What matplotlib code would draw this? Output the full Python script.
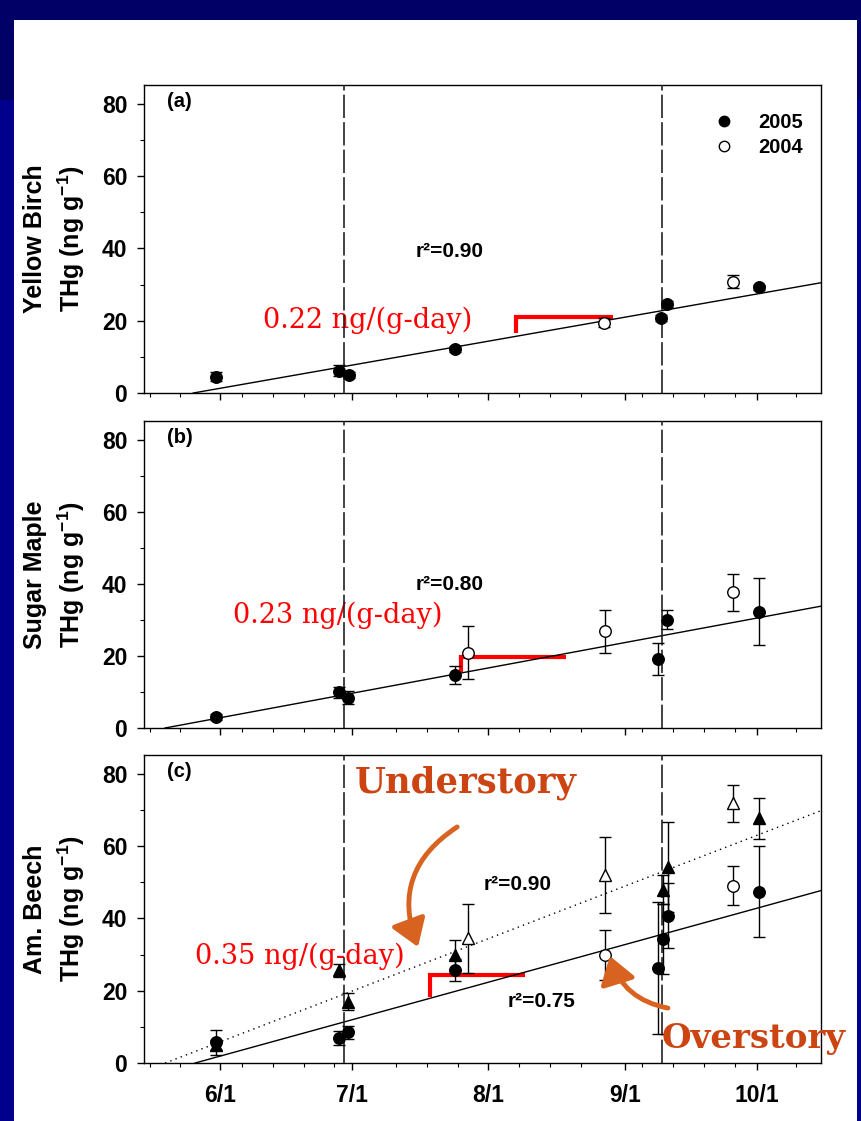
import matplotlib
matplotlib.use("Agg")
import matplotlib.pyplot as plt
from matplotlib.ticker import FixedLocator
from matplotlib.patches import Rectangle
from matplotlib.lines import Line2D

plt.rcParams["font.family"] = "Liberation Sans"
plt.rcParams["font.weight"] = "bold"
plt.rcParams["mathtext.fontset"] = "custom"
plt.rcParams["mathtext.rm"] = "Liberation Sans:bold"
plt.rcParams["mathtext.bf"] = "Liberation Sans:bold"
plt.rcParams["mathtext.default"] = "bf"

# x values are day of year (2005)
month_days = [152, 182, 213, 244, 274]
month_labels = ["6/1", "7/1", "8/1", "9/1", "10/1"]
phase_days = [180.1, 252.5]

# (a) Yellow Birch
yb_2005_day = [151.0, 179.0, 181.2, 205.3, 252.2, 253.5, 274.6]
yb_2005_thg = [4.5, 6.2, 5.0, 12.1, 20.7, 24.6, 29.2]
yb_2005_err = [1.3, 1.5, 0.8, 0.8, 0.8, 0.8, 0.8]
yb_2004_day = [239.3, 268.7]
yb_2004_thg = [19.5, 30.8]
yb_2004_err = [1.2, 1.8]
yb_fit_day = [145.9, 288.6]
yb_fit_thg = [0.0, 30.5]

# (b) Sugar Maple
sm_2005_day = [151.0, 179.0, 181.1, 205.3, 251.5, 253.5, 274.6]
sm_2005_thg = [3.1, 9.9, 8.4, 14.7, 19.2, 30.0, 32.3]
sm_2005_err = [0.8, 1.5, 1.8, 2.6, 4.5, 2.6, 9.4]
sm_2004_day = [208.3, 239.5, 268.7]
sm_2004_thg = [20.9, 26.8, 37.6]
sm_2004_err = [7.3, 5.9, 5.2]
sm_fit_day = [139.5, 288.6]
sm_fit_thg = [0.0, 33.8]

# (c) Am. Beech, overstory (circles) and understory (triangles)
ov_2005_day = [151.0, 179.0, 181.1, 205.3, 251.5, 252.6, 253.8, 274.6]
ov_2005_thg = [5.7, 7.0, 8.5, 25.7, 26.2, 34.3, 40.7, 47.4]
ov_2005_err = [3.4, 1.9, 1.8, 3.0, 18.3, 9.6, 9.0, 12.5]
ov_2004_day = [239.5, 268.7]
ov_2004_thg = [29.9, 49.0]
ov_2004_err = [6.9, 5.4]
un_2005_day = [151.0, 179.0, 181.1, 205.3, 252.6, 253.8, 274.6]
un_2005_thg = [5.0, 25.7, 17.0, 29.9, 47.9, 54.3, 67.7]
un_2005_err = [1.5, 1.8, 2.3, 4.2, 4.0, 12.5, 5.6]
un_2004_day = [208.3, 239.5, 268.7]
un_2004_thg = [34.5, 52.0, 71.9]
un_2004_err = [9.6, 10.4, 5.1]
ov_fit_day = [146.3, 288.6]
ov_fit_thg = [0.0, 47.7]
un_fit_day = [139.5, 288.6]
un_fit_thg = [0.0, 69.8]

panel_tags = ["(a)", "(b)", "(c)"]
species = ["Yellow Birch", "Sugar Maple", "Am. Beech"]
rate_labels = ["0.22 ng/(g-day)", "0.23 ng/(g-day)", "0.35 ng/(g-day)"]
rate_pos = [(161.8, 20.2), (155.0, 31.3), (146.2, 29.4)]
bracket_day = [[219.2, 219.2, 241.3], [206.8, 206.8, 230.6], [199.7, 199.7, 221.3]]
bracket_thg = [[16.5, 21.0, 21.0], [15.6, 19.7, 19.7], [18.2, 24.4, 24.4]]

RED = "#FF0000"
ORANGE_TXT = "#CC4411"
ORANGE_ARR = "#D8621F"

fig = plt.figure(figsize=(8.61, 11.21), dpi=100)
fig.patch.set_facecolor("#000066")
fig.patches.append(Rectangle((0, 0), 1, (1121 - 100) / 1121, transform=fig.transFigure,
                             fc="#00008C", ec="none", zorder=-2))
fig.patches.append(Rectangle((14 / 861, 0), (857 - 14) / 861, (1121 - 20) / 1121,
                             transform=fig.transFigure, fc="white", ec="none", zorder=-1))

ax_pos = [[0.1672, 0.6494, 0.7863, 0.2748],
          [0.1672, 0.3506, 0.7863, 0.2739],
          [0.1672, 0.0517, 0.7863, 0.2748]]

minor_days = [d for d in range(136, 289, 7) if min(abs(d - m) for m in month_days) > 3]

axes = []
for i, pos in enumerate(ax_pos):
    ax = fig.add_axes(pos)
    ax.set_xlim(134.7, 288.6)
    ax.set_ylim(0, 85.2)
    ax.xaxis.set_major_locator(FixedLocator(month_days))
    ax.xaxis.set_minor_locator(FixedLocator(minor_days))
    ax.set_yticks([0, 20, 40, 60, 80])
    ax.set_yticks([10, 30, 50, 70], minor=True)
    ax.tick_params(which="major", direction="out", length=5, width=1, labelsize=16.5, pad=7)
    ax.tick_params(which="minor", direction="out", length=3, width=0.8)
    ax.tick_params(axis="x", which="major", pad=10)
    if i < 2:
        ax.set_xticklabels([])
    else:
        ax.set_xticklabels(month_labels)
    for s in ax.spines.values():
        s.set_linewidth(1)
    for d in phase_days:
        ax.axvline(d, color="#222222", lw=1.2, dashes=(14, 2.5), zorder=4)
    ax.set_ylabel(species[i] + "\n" + r"THg (ng g$^{-1}$)", fontsize=18,
                  fontweight="bold", linespacing=1.35)
    ax.yaxis.set_label_coords(-0.084, 0.5)
    ax.text(139.9, 80.5, panel_tags[i], fontsize=14.5, fontweight="bold", va="center")
    ax.plot(bracket_day[i], bracket_thg[i], color=RED, lw=3, solid_capstyle="butt",
            solid_joinstyle="miter", zorder=3)
    ax.text(rate_pos[i][0], rate_pos[i][1], rate_labels[i], family="DejaVu Serif",
            fontweight="normal", fontsize=19.5, color=RED, va="center", zorder=2)
    axes.append(ax)

err_kw = dict(ecolor="black", elinewidth=1, capsize=4.3, capthick=1, zorder=5)

def filled(ax, x, y, e, m="o"):
    ax.errorbar(x, y, yerr=e, fmt=m, ms=8.3, mfc="black", mec="black", **err_kw)

def hollow(ax, x, y, e, m="o"):
    ax.errorbar(x, y, yerr=e, fmt=m, ms=8.3, mfc="white", mec="black", mew=1, **err_kw)

# (a)
ax = axes[0]
ax.plot(yb_fit_day, yb_fit_thg, color="black", lw=1, zorder=3)
filled(ax, yb_2005_day, yb_2005_thg, yb_2005_err)
hollow(ax, yb_2004_day, yb_2004_thg, yb_2004_err)
ax.text(196.5, 39.1, "r²=0.90", fontsize=15, fontweight="bold", va="center")
handles = [Line2D([], [], marker="o", ls="none", ms=7.5, mfc="black", mec="black"),
           Line2D([], [], marker="o", ls="none", ms=7.5, mfc="white", mec="black")]
ax.legend(handles, ["2005", "2004"], loc="upper right", frameon=False,
          prop={"weight": "bold", "size": 14.5}, handletextpad=0.7, labelspacing=0.3,
          bbox_to_anchor=(0.985, 0.935), borderaxespad=0)

# (b)
ax = axes[1]
ax.plot(sm_fit_day, sm_fit_thg, color="black", lw=1, zorder=3)
filled(ax, sm_2005_day, sm_2005_thg, sm_2005_err)
hollow(ax, sm_2004_day, sm_2004_thg, sm_2004_err)
ax.text(196.5, 39.8, "r²=0.80", fontsize=15, fontweight="bold", va="center")

# (c)
ax = axes[2]
ax.plot(ov_fit_day, ov_fit_thg, color="black", lw=1, zorder=3)
ax.plot(un_fit_day, un_fit_thg, color="black", lw=1, ls=(0, (1, 3)), zorder=3)
filled(ax, un_2005_day, un_2005_thg, un_2005_err, "^")
hollow(ax, un_2004_day, un_2004_thg, un_2004_err, "^")
filled(ax, ov_2005_day, ov_2005_thg, ov_2005_err)
hollow(ax, ov_2004_day, ov_2004_thg, ov_2004_err)
ax.text(212.0, 49.5, "r²=0.90", fontsize=15, fontweight="bold", va="center")
ax.text(217.3, 17.0, "r²=0.75", fontsize=15, fontweight="bold", va="center")

ax.text(182.7, 77.5, "Understory", family="DejaVu Serif", fontweight="bold",
        fontsize=25.5, color=ORANGE_TXT, va="center", zorder=6)
ax.text(252.4, 6.9, "Overstory", family="DejaVu Serif", fontweight="bold",
        fontsize=24.5, color=ORANGE_TXT, va="center", clip_on=False, zorder=6)
ax.annotate("", xy=(197.0, 32.1), xytext=(205.9, 65.3),
            arrowprops=dict(arrowstyle="-|>,head_length=0.9,head_width=0.6", lw=3.5,
                            color=ORANGE_ARR, connectionstyle="arc3,rad=0.4",
                            shrinkA=0, shrinkB=0, mutation_scale=18), zorder=6)
ax.annotate("", xy=(240.6, 29.6), xytext=(253.8, 15.2),
            arrowprops=dict(arrowstyle="-|>,head_length=0.9,head_width=0.6", lw=3.5,
                            color=ORANGE_ARR, connectionstyle="arc3,rad=-0.3",
                            shrinkA=0, shrinkB=0, mutation_scale=18),
            annotation_clip=False, zorder=6)

fig.savefig("out.png", dpi=100, facecolor=fig.get_facecolor())
